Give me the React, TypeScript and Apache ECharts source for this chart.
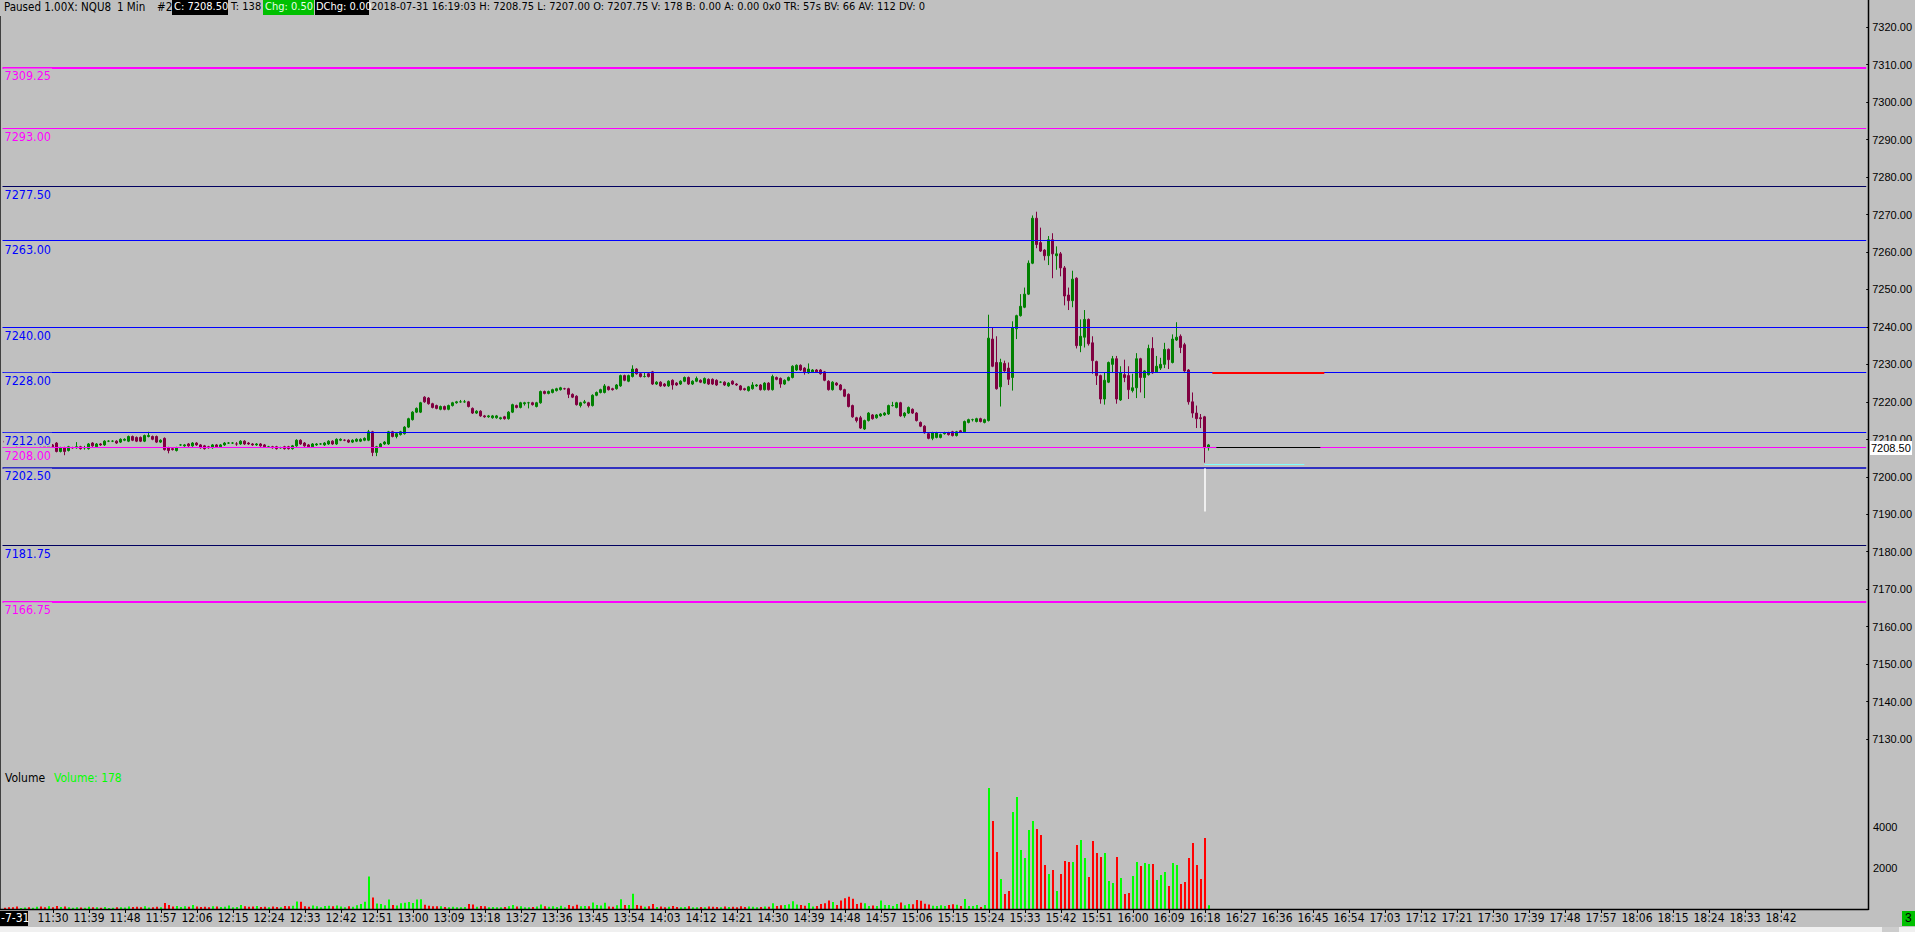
import React, { useEffect, useRef } from 'react';
import * as echarts from 'echarts';

// ---------- DATA ----------
const startMinute = 678; // 11:18 first category
const endMinute = 1143; // 19:03 last category

// [open, close, low, high] per 1-min bar, 11:18 .. 12:50
const candlesMorning: number[][] = [
  [7209.5, 7209.25, 7209, 7209.75], [7209.25, 7209, 7208.75, 7209.5], [7209, 7208.75, 7208.5, 7209.25],
  [7208.75, 7208.25, 7208, 7209], [7208.25, 7208.75, 7208, 7209], [7208.75, 7209.25, 7208.5, 7209.5],
  [7209.25, 7209, 7208.75, 7209.5], [7209, 7209.5, 7208.75, 7209.75], [7209.5, 7209.75, 7209.25, 7210],
  [7209.75, 7208.25, 7208, 7210.25], [7208.5, 7208, 7207.75, 7208.75], [7207.25, 7209, 7207, 7209.25],
  [7208.5, 7208, 7207.75, 7208.75], [7209, 7206.75, 7206.5, 7209.25], [7206.75, 7207.75, 7206.5, 7208],
  [7207.75, 7206.75, 7205.75, 7208], [7207, 7208, 7206.75, 7208.25], [7207.75, 7207.75, 7207.5, 7208],
  [7207.75, 7208, 7207.5, 7209.25], [7208, 7207.5, 7207.25, 7208.25], [7207.75, 7207.75, 7207.25, 7208.25],
  [7207.5, 7208.75, 7207.25, 7209], [7209, 7208.25, 7208, 7209.25], [7208, 7208.75, 7207.75, 7209],
  [7208.75, 7208.5, 7208.25, 7209], [7208.5, 7209.5, 7208.25, 7209.75], [7209.5, 7209.5, 7209.25, 7209.75],
  [7209.5, 7209.5, 7209.25, 7209.75], [7209.5, 7209, 7208.75, 7209.75], [7209.25, 7210, 7209, 7210.25],
  [7209.75, 7210, 7209.5, 7210.25], [7209.5, 7210.75, 7209.25, 7211], [7210.75, 7209.75, 7209.5, 7211],
  [7210.5, 7209.5, 7209.25, 7210.75], [7210.5, 7209.5, 7209.25, 7210.75], [7209.5, 7211, 7209.25, 7211.25],
  [7210.75, 7211, 7210.5, 7212], [7210.75, 7210, 7209.75, 7211], [7210.75, 7209.25, 7209, 7211],
  [7209.25, 7209.75, 7209, 7210], [7210.25, 7207.25, 7207, 7210.5], [7207.75, 7207, 7206.25, 7208],
  [7207.5, 7207.25, 7207, 7207.75], [7207, 7207.75, 7206.75, 7208], [7208.5, 7208.5, 7208.25, 7208.75],
  [7208.25, 7208.5, 7208, 7208.75], [7208.75, 7208.25, 7208, 7209], [7208.25, 7209, 7208, 7209.25],
  [7209, 7208.5, 7208.25, 7209.25], [7208.5, 7207.75, 7207.5, 7208.75], [7208.25, 7207.5, 7207.25, 7208.5],
  [7208, 7207.75, 7207.5, 7208.25], [7207.75, 7208.5, 7207.5, 7208.75], [7208.5, 7208, 7207.75, 7208.75],
  [7208, 7208.5, 7207.75, 7208.75], [7208.5, 7209, 7208.25, 7209.25], [7209, 7209, 7208.75, 7209.25],
  [7209, 7209, 7208.75, 7209.25], [7208.75, 7208.75, 7208.25, 7209.25], [7208.75, 7209.5, 7208.5, 7209.75],
  [7209.5, 7208.75, 7208.5, 7209.75], [7209, 7208.75, 7208.5, 7209.25], [7208.75, 7208.5, 7208.25, 7209],
  [7208.5, 7208.75, 7208.25, 7209], [7208.75, 7208.25, 7208, 7209], [7208.5, 7208, 7207.75, 7208.75],
  [7208, 7208, 7207.75, 7208.25], [7208, 7207.75, 7207.5, 7208.25], [7208, 7207.5, 7207.25, 7208.25],
  [7207.75, 7207.75, 7207.5, 7208], [7208, 7207.5, 7207.25, 7208.25], [7208, 7207.5, 7207.25, 7208.25],
  [7207.5, 7208.25, 7207.25, 7208.5], [7208.25, 7209.75, 7208, 7210], [7209.75, 7208.75, 7208.5, 7210],
  [7209, 7208.25, 7208, 7209.25], [7208.5, 7208, 7207.75, 7208.75], [7208, 7208.75, 7207.75, 7209],
  [7208.5, 7208.75, 7208.25, 7209], [7208.75, 7208.75, 7208.5, 7209], [7208.5, 7209, 7208.25, 7209.25],
  [7208.75, 7209.5, 7208.5, 7209.75], [7209.5, 7208.75, 7208.5, 7209.75], [7208.75, 7210, 7208.5, 7210.25],
  [7209.75, 7210, 7209.5, 7210.25], [7209.75, 7209.75, 7209.5, 7210], [7209.75, 7209.25, 7209, 7210],
  [7209.25, 7209.75, 7209, 7210], [7209.5, 7210, 7209.25, 7210.25], [7209.5, 7210, 7209.25, 7210.25],
  [7209.75, 7210.25, 7209.5, 7210.5], [7209.75, 7212, 7209.5, 7212.5],
];

// 12:51 .. 15:23
const candlesMidday: number[][] = [
  [7212, 7206.5, 7205.5, 7212.25], [7206.5, 7208, 7205.5, 7208.25], [7208, 7208.75, 7207.75, 7209],
  [7208.75, 7209.25, 7208.5, 7209.5], [7208.75, 7212, 7208.5, 7212.25], [7212, 7210.75, 7210.5, 7212.25],
  [7210.75, 7211.5, 7210.25, 7211.75], [7211.25, 7212, 7211, 7212.25], [7211.5, 7213.25, 7211.25, 7213.5],
  [7213.25, 7215.5, 7213, 7215.75], [7215.25, 7217.25, 7215, 7217.5], [7217.25, 7218.25, 7217, 7218.5],
  [7217.25, 7219.75, 7217, 7220], [7221.25, 7220, 7219.75, 7221.5], [7221, 7219.5, 7219.25, 7221.25],
  [7219.5, 7218.5, 7218.25, 7219.75], [7219, 7218.25, 7218, 7219.25], [7218, 7218.75, 7217.75, 7219],
  [7218.75, 7218, 7217.75, 7219], [7218, 7219, 7217.75, 7219.25], [7219, 7219.75, 7218.75, 7220],
  [7219.75, 7220, 7219.5, 7220.25], [7220, 7220, 7219.75, 7220.5], [7220, 7220, 7219.75, 7220.5],
  [7220, 7218.75, 7218.5, 7220.25], [7218.25, 7217, 7216.75, 7218.5], [7217, 7217.5, 7216.75, 7217.75],
  [7217.5, 7216.25, 7216, 7217.75], [7216.25, 7216, 7215.75, 7216.5], [7216, 7216.25, 7215.75, 7216.5],
  [7215.75, 7216.25, 7215.5, 7216.5], [7215.75, 7216.25, 7215.5, 7216.5], [7215.5, 7215.75, 7215.25, 7216],
  [7216, 7215.5, 7215.25, 7216.25], [7215.5, 7217.25, 7215.25, 7217.5], [7217.25, 7219.25, 7217, 7219.5],
  [7219, 7218.5, 7218.25, 7219.25], [7218.5, 7219.75, 7218.25, 7220], [7219.5, 7219.75, 7219, 7220],
  [7219.75, 7219.75, 7218.25, 7220], [7219.75, 7219.25, 7219, 7220], [7218.75, 7219.75, 7218.5, 7220],
  [7219.75, 7222.75, 7219.5, 7223], [7222.75, 7222.25, 7222, 7223], [7222.25, 7222.75, 7222, 7223],
  [7222.5, 7223.25, 7222.25, 7223.5], [7223, 7223.5, 7222.75, 7223.75], [7223.25, 7223.75, 7223, 7224],
  [7223.5, 7223.5, 7223.25, 7223.75], [7223.5, 7222, 7221, 7223.75], [7222, 7221.25, 7221, 7222.25],
  [7221.5, 7219.25, 7219, 7221.75], [7219, 7219.75, 7218.5, 7220], [7219.75, 7220, 7219.5, 7220.5],
  [7219.75, 7219, 7218.5, 7220], [7219, 7221.75, 7218.75, 7222], [7221.75, 7222.5, 7221.5, 7222.75],
  [7222.5, 7223.25, 7222.25, 7223.5], [7222.5, 7224.25, 7222.25, 7224.75], [7224, 7223.25, 7223, 7224.25],
  [7223.5, 7223.25, 7223, 7223.75], [7223.5, 7224.5, 7223.25, 7224.75], [7224.25, 7227, 7224, 7227.25],
  [7227, 7225.75, 7225.5, 7227.25], [7225.5, 7227, 7225.25, 7227.25], [7226.75, 7228.75, 7226.5, 7229.75],
  [7228.75, 7227.5, 7227.25, 7229], [7227.5, 7226.75, 7226.5, 7227.75], [7226.75, 7226.75, 7226.5, 7227.75],
  [7227.5, 7226.75, 7226.5, 7227.75], [7228, 7224.75, 7224.5, 7228.25], [7224.75, 7225.25, 7224.5, 7225.5],
  [7225.25, 7224.25, 7224, 7225.5], [7224.75, 7224.25, 7224, 7225], [7224.25, 7225.5, 7224, 7225.75],
  [7225.75, 7224.5, 7223.25, 7226], [7225, 7224.5, 7224.25, 7225.25], [7224.75, 7225.5, 7224.5, 7225.75],
  [7225.5, 7226.5, 7225.25, 7226.75], [7226.5, 7224.75, 7224.5, 7226.75], [7224.75, 7225.5, 7224.5, 7225.75],
  [7225.5, 7226.25, 7225.25, 7226.75], [7225.75, 7225.25, 7225, 7226], [7225, 7226.25, 7224.75, 7226.5],
  [7226, 7224.75, 7224.5, 7226.25], [7226, 7224.75, 7224.5, 7226.25], [7225.75, 7224.5, 7224.25, 7226],
  [7225.25, 7225.25, 7225, 7225.5], [7225.25, 7224.5, 7224.25, 7225.5], [7224.25, 7225, 7224, 7225.25],
  [7225.5, 7224.75, 7224.5, 7225.75], [7224.75, 7224.5, 7224.25, 7225], [7224.25, 7223.25, 7223, 7224.5],
  [7223.5, 7223.25, 7223, 7223.75], [7223, 7224, 7222.75, 7224.25], [7223.5, 7224.5, 7223.25, 7225.25],
  [7224.25, 7224.5, 7224, 7224.75], [7224.5, 7223.25, 7223, 7224.75], [7223.25, 7225, 7223, 7225.25],
  [7225, 7223.25, 7223, 7225.25], [7223.25, 7226.75, 7223, 7227.25], [7226.5, 7226, 7225.75, 7226.75],
  [7226.25, 7224.75, 7223.75, 7226.5], [7224.75, 7225.75, 7224.5, 7226], [7225.75, 7226.5, 7225.5, 7226.75],
  [7226.5, 7229.5, 7226.25, 7229.75], [7228.5, 7229.75, 7228.25, 7230], [7229.75, 7228.5, 7228.25, 7230],
  [7229, 7228, 7227.25, 7229.25], [7227.75, 7228.75, 7227.5, 7230.25], [7228, 7228.5, 7227.75, 7228.75],
  [7228.5, 7228, 7227.75, 7228.75], [7228.5, 7227.5, 7227.25, 7228.75], [7228, 7225.75, 7225.5, 7228.25],
  [7225.5, 7223.25, 7223, 7225.75], [7223.25, 7225.25, 7223, 7225.5], [7225, 7224.5, 7224.25, 7225.25],
  [7224.5, 7223.25, 7223, 7224.75], [7223.25, 7221.5, 7221.25, 7223.5], [7222, 7218.75, 7218.5, 7222.25],
  [7219, 7216, 7215.75, 7219.25], [7215.75, 7215, 7214.5, 7216], [7215.75, 7213, 7212.75, 7216.25],
  [7212.75, 7215, 7212.5, 7215.25], [7215, 7217, 7214.75, 7217.25], [7216.5, 7215.5, 7215.25, 7216.75],
  [7215.75, 7216.5, 7215.5, 7216.75], [7216.25, 7216.75, 7216, 7217], [7216.5, 7217, 7216.25, 7217.25],
  [7216.75, 7219, 7216.5, 7219.25], [7219, 7219, 7218.75, 7220], [7218.5, 7219.75, 7218.25, 7220],
  [7219.75, 7216.25, 7216, 7220], [7216.25, 7217, 7215.75, 7217.25], [7217, 7218.5, 7216.75, 7218.75],
  [7218, 7217, 7216.75, 7218.25], [7217, 7215, 7214.75, 7217.25], [7214.5, 7213.5, 7213.25, 7214.75],
  [7213.5, 7211.75, 7211.5, 7213.75], [7211.5, 7210.25, 7210, 7211.75], [7210.25, 7211.75, 7209.75, 7212],
  [7210.5, 7211.75, 7210.25, 7212], [7210.5, 7211.25, 7210.25, 7211.5], [7211.5, 7211.75, 7211.25, 7212],
  [7211.75, 7211.25, 7211, 7212], [7212, 7211, 7210.75, 7212.25], [7211, 7212, 7210.75, 7212.25],
  [7212.25, 7212, 7211.75, 7212.5], [7212, 7214.75, 7211.75, 7215], [7214.5, 7215.25, 7214.25, 7215.5],
  [7215.25, 7215.25, 7214.75, 7215.5], [7214.75, 7215.5, 7214.5, 7215.75], [7215.5, 7214.75, 7214.5, 7215.75],
  [7214.5, 7215.25, 7214.25, 7215.5],
];

// 15:24 .. 16:19
const candlesAfternoon: number[][] = [
  [7215, 7237, 7214.75, 7243.25], [7236.75, 7229.5, 7229.25, 7239.75], [7230.5, 7223.5, 7223.25, 7237.5],
  [7224, 7230.5, 7218.75, 7231.5], [7230.25, 7228.25, 7228, 7231], [7229, 7226, 7224.5, 7230.5],
  [7226.5, 7239.75, 7223, 7241.5], [7239.5, 7243, 7236.75, 7243.25], [7243, 7245.5, 7242.75, 7248.75],
  [7245.25, 7248.75, 7245, 7250.5], [7248.75, 7257, 7248.5, 7257.75], [7257, 7269, 7256.75, 7269.75],
  [7269, 7262, 7261, 7270.75], [7262.5, 7260.25, 7260, 7266.5], [7260.5, 7259, 7257.75, 7260.75],
  [7259, 7263.25, 7256.5, 7264.25], [7263.25, 7259.5, 7253, 7265], [7259, 7259.5, 7255.25, 7261.5],
  [7259.5, 7255.75, 7253.5, 7260], [7255.75, 7248.25, 7245.75, 7256.25], [7248.5, 7247, 7244.5, 7250.5],
  [7247, 7252.75, 7245.25, 7255], [7253, 7235, 7234.25, 7253.25], [7235, 7237.5, 7233.25, 7242],
  [7237.25, 7242, 7234.5, 7244.5], [7242, 7235.5, 7235, 7242.25], [7235.75, 7231, 7227.5, 7237.5],
  [7230.75, 7227, 7224.5, 7231], [7227, 7220.75, 7219.5, 7227.25], [7220.75, 7225.75, 7219.25, 7227.75],
  [7225.25, 7230.5, 7225, 7230.75], [7230, 7231.5, 7227.75, 7232.25], [7231.5, 7220.75, 7219.5, 7232.25],
  [7220.5, 7227.75, 7220.25, 7229.5], [7227.25, 7226.5, 7225.25, 7231.25], [7227, 7223.25, 7220.75, 7229.5],
  [7223, 7223.75, 7222.5, 7227.5], [7223.75, 7231.5, 7221, 7233], [7231.5, 7226.5, 7222.5, 7231.75],
  [7226.5, 7228.25, 7221, 7228.5], [7227.25, 7234.25, 7227, 7235.25], [7234.25, 7227.75, 7227.5, 7237.25],
  [7228, 7229.5, 7227.75, 7232.25], [7229, 7230, 7228.5, 7231.75], [7230, 7234, 7229, 7235.75],
  [7234, 7231.25, 7228.75, 7234.25], [7230.5, 7236.75, 7230.25, 7238], [7236.5, 7237.25, 7236.25, 7241.25],
  [7237.5, 7234.5, 7233, 7238], [7235.25, 7228.25, 7228, 7235.75], [7228.5, 7220, 7219.25, 7228.75],
  [7220, 7217, 7215.75, 7222.5], [7217, 7215.5, 7213, 7219], [7215.75, 7215.5, 7213, 7216.75],
  [7216, 7207.75, 7203.75, 7216.25], [7207.75, 7208.5, 7207, 7208.75],
];

const volumeMorning: number[] = [
  60, 80, 90, 120, 50, 70, 90, 60, 110,
  120, 90, 140, 80, 150, 100, 120, 90, 60, 80,
  70, 60, 110, 90, 80, 60, 100, 50, 60, 80,
  90, 70, 120, 100, 110, 90, 130, 70, 80, 110,
  90, 290, 200, 120, 150, 100, 130, 110, 190, 120,
  100, 110, 90, 140, 120, 100, 110, 170, 80, 100,
  190, 130, 110, 120, 150, 100, 110, 80, 120, 100,
  90, 150, 130, 160, 360, 350, 140, 110, 170, 140,
  90, 150, 160, 130, 170, 120, 90, 140, 110, 180,
  250, 350, 1580,
];

const volumeMidday: number[] = [
  560, 270, 240, 180, 460, 200, 170,
  280, 310, 340, 290, 460, 470, 210, 160, 140, 130,
  140, 100, 90, 110, 80, 90, 100, 240, 220, 110,
  150, 130, 90, 100, 80, 80, 100, 140, 190, 120,
  130, 90, 80, 100, 120, 220, 130, 110, 140, 100,
  160, 90, 200, 140, 210, 130, 150, 140, 320, 190,
  170, 300, 120, 110, 180, 470, 190, 200, 740, 200,
  160, 110, 130, 250, 100, 120, 90, 110, 150, 100,
  90, 100, 130, 80, 90, 100, 80, 120, 110, 100,
  90, 120, 100, 110, 90, 140, 100, 120, 110, 90,
  100, 120, 110, 280, 150, 180, 200, 230, 380, 220,
  200, 160, 290, 120, 150, 240, 280, 410, 340, 200,
  420, 520, 600, 500, 240, 300, 280, 150, 170, 150,
  420, 200, 200, 150, 240, 320, 180, 250, 230, 440,
  400, 260, 220, 160, 150, 180, 150, 190, 230, 210,
  146, 488, 146, 146, 195, 98, 195,
];

const volumeAfternoon: number[] = [
  5906, 4295, 2782, 1464, 732, 879, 4735, 5467, 2880, 2489,
  3856, 4295, 3905, 3612, 2148, 1708, 1904, 879, 1708, 2343,
  2294, 2294, 3124, 3368, 2489, 1562, 3319, 2733, 2538, 2733,
  1367, 1269, 2538, 1513, 732, 781, 1611, 2294, 2099, 2245,
  2196, 2196, 1415, 1660, 1806, 1123, 2245, 2148, 1220, 1318,
  2489, 3221, 2148, 1464, 3466, 178,
];

const levelPrices: number[] = [7309.25, 7293.0, 7277.5, 7263.0, 7240.0, 7228.0, 7212.0, 7208.0, 7202.5, 7181.75, 7166.75];
const priceTickMin = 7130;
const priceTickMax = 7320;
const volumeTicks: number[] = [2000, 4000];

const headerSegments = {
  status: 'Paused 1.00X: NQU8',
  period: '1 Min',
  chartNo: '#2',
  close: 'C: 7208.50',
  trades: 'T: 138',
  change: 'Chg: 0.50',
  dayChange: 'DChg: 0.00',
  rest: '2018-07-31 16:19:03 H: 7208.75 L: 7207.00 O: 7207.75 V: 178 B: 0.00 A: 0.00 0x0 TR: 57s BV: 66 AV: 112 DV: 0',
};
const lastPriceText = '7208.50';
const volumeLabel = 'Volume: 178';
const dateLabel = '-7-31';

// ---------- STYLE ----------
const NARROW = "'Liberation Sans Narrow', 'Arial Narrow', 'DejaVu Sans Condensed', 'Liberation Sans', sans-serif";
const SANS = "'Liberation Sans', Arial, sans-serif";
const BG = '#C0C0C0';
const UP = '#008000';
const DOWN = '#800040';
const MAG = '#FF00FF';
const BLUE = '#0000FF';
const NAVY = '#000060';
const levelStyles: { color: string; label: string; width: number }[] = [
  { color: MAG, label: MAG, width: 2 },
  { color: MAG, label: MAG, width: 1 },
  { color: NAVY, label: BLUE, width: 1 },
  { color: BLUE, label: BLUE, width: 1 },
  { color: BLUE, label: BLUE, width: 1 },
  { color: BLUE, label: BLUE, width: 1 },
  { color: BLUE, label: BLUE, width: 1 },
  { color: MAG, label: MAG, width: 1 },
  { color: '#0000C0', label: BLUE, width: 1.5 },
  { color: NAVY, label: BLUE, width: 1 },
  { color: MAG, label: MAG, width: 2 },
];

function fmtMinute(m: number): string {
  return `${Math.floor(m / 60)}:${String(m % 60).padStart(2, '0')}`;
}

export default function App() {
  const ref = useRef<HTMLDivElement>(null);

  useEffect(() => {
    if (!ref.current) return;
    const chart = echarts.init(ref.current, undefined, { renderer: 'svg' });

    const categories: string[] = [];
    for (let m = startMinute; m <= endMinute; m++) categories.push(fmtMinute(m));

    const candles = [...candlesMorning, ...candlesMidday, ...candlesAfternoon];
    const volumes = [...volumeMorning, ...volumeMidday, ...volumeAfternoon];
    const volumeData = volumes.map((v, i) => {
      const c = candles[i];
      const up = c ? c[1] >= c[0] : true;
      return { value: v, itemStyle: { color: up ? '#00FF00' : '#FF0000' } };
    });

    const showTime = (index: number) => {
      const m = startMinute + index;
      return m >= 690 && m <= 1122 && (m - 690) % 9 === 0;
    };

    const levelLines = levelPrices.map((p, k) => ({
      yAxis: p,
      lineStyle: { color: levelStyles[k].color, width: levelStyles[k].width, type: 'solid' },
      label: {
        show: true,
        position: 'insideStartBottom',
        formatter: () => p.toFixed(2),
        color: levelStyles[k].label,
        backgroundColor: BG,
        fontSize: 12.5,
        fontFamily: NARROW,
        distance: [1, 1],
        padding: [1, 1, 0, 1],
      },
    }));

    const segLine = (t1: string, p1: number, t2: string, p2: number, color: string, width: number) => [
      { coord: [t1, p1], lineStyle: { color, width, type: 'solid' }, label: { show: false } },
      { coord: [t2, p2] },
    ];

    const W = 1915;
    const txt = (x: number, y: number, text: string, fill: string, font = NARROW, size = 11, z = 50) => ({
      type: 'text', x, y, z, style: { text, fill, fontFamily: font, fontSize: size },
    });

    const option: any = {
      animation: false,
      backgroundColor: BG,
      grid: [
        { left: 2.5, width: 1864, top: 27.2, height: 711.8 },
        { left: 3, width: 1864, top: 745, height: 164 },
      ],
      xAxis: [
        { type: 'category', gridIndex: 0, data: categories, show: false, boundaryGap: true },
        {
          type: 'category', gridIndex: 1, data: categories, boundaryGap: true,
          axisLine: { show: false },
          axisTick: { show: true, interval: showTime, alignWithLabel: true, length: 4, lineStyle: { color: '#000', width: 1 } },
          axisLabel: { interval: showTime, color: '#000', fontSize: 12, fontFamily: NARROW, margin: 3 },
          splitLine: { show: false },
        },
      ],
      yAxis: [
        {
          type: 'value', gridIndex: 0, position: 'right', min: priceTickMin, max: priceTickMax, interval: 10, scale: false,
          axisLine: { show: false },
          axisTick: { show: true, length: 2, lineStyle: { color: '#000' } },
          axisLabel: { formatter: (v: number) => v.toFixed(2), color: '#000', fontSize: 11, fontFamily: SANS, margin: 6 },
          splitLine: { show: false },
        },
        {
          type: 'value', gridIndex: 1, position: 'right', min: 0, max: 8000, interval: 2000,
          axisLine: { show: false },
          axisTick: { show: false },
          axisLabel: {
            formatter: (v: number) => (volumeTicks.includes(v) ? String(v) : ''),
            color: '#000', fontSize: 11, fontFamily: SANS, margin: 6,
          },
          splitLine: { show: false },
        },
      ],
      series: [
        {
          type: 'candlestick',
          xAxisIndex: 0, yAxisIndex: 0,
          data: candles,
          barWidth: 2,
          itemStyle: { color: UP, color0: DOWN, borderColor: UP, borderColor0: DOWN, borderWidth: 1 },
          markLine: {
            silent: true,
            symbol: ['none', 'none'],
            animation: false,
            data: [
              ...levelLines,
              segLine('16:20', 7227.75, '16:48', 7227.75, '#FF0000', 2),
              segLine('16:21', 7208, '16:47', 7208, '#000000', 1),
              segLine('16:18', 7203.25, '16:43', 7203.25, '#80FFFF', 1),
              segLine('16:18', 7202.25, '16:18', 7190.75, '#FFFFFF', 1.5),
            ],
          },
        },
        {
          type: 'bar',
          xAxisIndex: 1, yAxisIndex: 1,
          data: volumeData,
          barWidth: 2,
        },
      ],
      graphic: [
        // frame
        { type: 'line', z: 40, shape: { x1: 0.5, y1: 16, x2: 0.5, y2: 909 }, style: { stroke: '#404040', lineWidth: 1 } },
        { type: 'line', z: 40, shape: { x1: 1868.5, y1: 0, x2: 1868.5, y2: 910 }, style: { stroke: '#000', lineWidth: 1.5 } },
        { type: 'line', z: 40, shape: { x1: 0, y1: 909.5, x2: 1868.5, y2: 909.5 }, style: { stroke: '#000', lineWidth: 1.5 } },
        // header
        txt(4, 1, headerSegments.status, '#000', NARROW, 11.5),
        txt(117, 1, headerSegments.period, '#000', NARROW, 11.5),
        txt(157, 1, headerSegments.chartNo, '#000', NARROW, 11.5),
        { type: 'rect', z: 45, shape: { x: 172, y: 0, width: 56, height: 15 }, style: { fill: '#000' } },
        txt(174, 1, headerSegments.close, '#FFF'),
        txt(231, 1, headerSegments.trades, '#000'),
        { type: 'rect', z: 45, shape: { x: 263, y: 0, width: 51, height: 15 }, style: { fill: '#00C000' } },
        txt(265, 1, headerSegments.change, '#E8FFE8'),
        { type: 'rect', z: 45, shape: { x: 315, y: 0, width: 54, height: 15 }, style: { fill: '#000' } },
        txt(316, 1, headerSegments.dayChange, '#FFF'),
        txt(371, 1, headerSegments.rest, '#000'),
        // volume pane title
        txt(5, 772, 'Volume', '#000', NARROW, 12),
        txt(54, 772, volumeLabel, '#00FF00', NARROW, 12),
        // date label at axis start
        { type: 'rect', z: 45, shape: { x: 0, y: 911, width: 28, height: 15 }, style: { fill: '#000' } },
        txt(1, 912, dateLabel, '#FFF', NARROW, 12),
        // last price box
        { type: 'rect', z: 45, shape: { x: 1870, y: 441, width: 42, height: 14 }, style: { fill: '#FFF' } },
        txt(1871, 442, lastPriceText, '#000', SANS, 11),
        // bottom strip
        { type: 'rect', z: 30, shape: { x: 0, y: 927, width: W, height: 5 }, style: { fill: '#F0F0F0' } },
        { type: 'rect', z: 31, shape: { x: 1882, y: 927, width: 17, height: 5 }, style: { fill: '#CDCDCD' } },
        { type: 'rect', z: 45, shape: { x: 1902, y: 911, width: 13, height: 15 }, style: { fill: '#00C000' } },
        txt(1905, 912, '3', '#000', SANS, 12),
      ],
    };

    chart.setOption(option);
    return () => chart.dispose();
  }, []);

  return (
    <div
      ref={ref}
      style={{ position: 'fixed', left: 0, top: 0, width: 1915, height: 932, background: BG }}
    />
  );
}
